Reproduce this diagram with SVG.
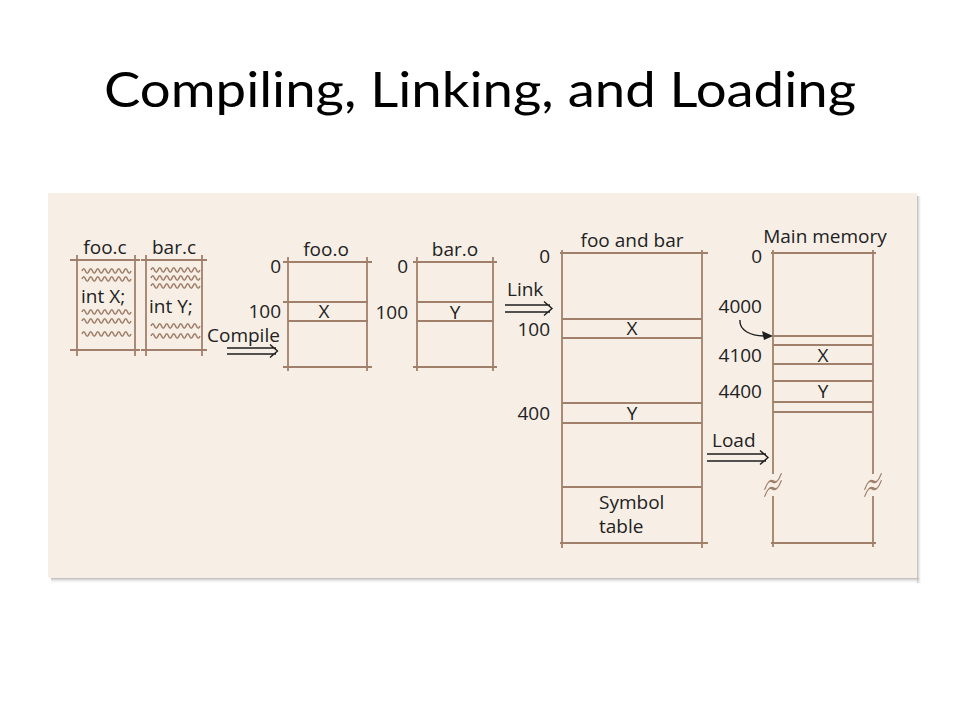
<svg xmlns="http://www.w3.org/2000/svg" width="960" height="720" viewBox="0 0 960 720">
<style>
  .t { font-family: "Open Sans", "Noto Sans", sans-serif; font-size: 19px; fill: #222222; }
  .m { text-anchor: middle; }
  .e { text-anchor: end; }
  .ln { stroke: #a0806b; stroke-width: 1.8; fill: none; }
  .wv { stroke: #a0806b; stroke-width: 1.6; fill: none; }
  .ar { stroke: #1e1e1e; stroke-width: 1.4; fill: none; }
  .br { stroke: #a0806b; stroke-width: 1.8; fill: none; stroke-linecap: round; }
</style>
<defs>
  <path id="wave" d="M0,0 q1.75,-4.4 3.5,0 t3.5,0 t3.5,0 t3.5,0 t3.5,0 t3.5,0 t3.5,0 t3.5,0 t3.5,0 t3.5,0 t3.5,0 t3.5,0 t3.5,0 t3.5,0"/>
  <path id="brk" d="M-8,-3.5 c2.5,-4.5 5,-4.5 8,0 s5.5,4.5 8,0 M-8,3.5 c2.5,-4.5 5,-4.5 8,0 s5.5,4.5 8,0"/>
  <linearGradient id="shR" x1="0" y1="0" x2="1" y2="0">
    <stop offset="0" stop-color="#b8b8b8"/>
    <stop offset="1" stop-color="#ffffff" stop-opacity="0"/>
  </linearGradient>
  <linearGradient id="shB" x1="0" y1="0" x2="0" y2="1">
    <stop offset="0" stop-color="#b8b8b8"/>
    <stop offset="1" stop-color="#ffffff" stop-opacity="0"/>
  </linearGradient>
</defs>
<rect width="960" height="720" fill="#ffffff"/>
<text x="480" y="107" font-family="Lato, 'Open Sans', sans-serif" font-size="48" fill="#000" text-anchor="middle" textLength="752" lengthAdjust="spacingAndGlyphs">Compiling, Linking, and Loading</text>

<g id="panel">
  <rect x="917" y="196" width="5" height="387" fill="url(#shR)"/>
  <rect x="51" y="578" width="868" height="6" fill="url(#shB)"/>
  <rect x="48" y="193" width="869" height="385" fill="#f7efe6"/>
</g>

<g id="foo-c">
  <text class="t m" x="105" y="254">foo.c</text>
  <path class="ln" d="M70,260 H140 M70,350 H140 M77,255 V356 M135,255 V356"/>
  <use href="#wave" class="wv" x="82" y="271"/>
  <use href="#wave" class="wv" x="82" y="279"/>
  <text class="t" x="81" y="303">int X;</text>
  <use href="#wave" class="wv" x="82" y="312"/>
  <use href="#wave" class="wv" x="82" y="321"/>
  <use href="#wave" class="wv" x="82" y="334"/>
</g>

<g id="bar-c">
  <text class="t m" x="174" y="254">bar.c</text>
  <path class="ln" d="M141,260 H207 M141,350 H207 M146,255 V356 M202,255 V356"/>
  <use href="#wave" class="wv" x="151" y="270"/>
  <use href="#wave" class="wv" x="151" y="278"/>
  <use href="#wave" class="wv" x="151" y="286"/>
  <text class="t" x="149" y="313">int Y;</text>
  <use href="#wave" class="wv" x="151" y="326"/>
  <use href="#wave" class="wv" x="151" y="336"/>
</g>

<g id="foo-o">
  <text class="t m" x="326" y="256">foo.o</text>
  <text class="t e" x="281" y="273">0</text>
  <text class="t e" x="281" y="318">100</text>
  <path class="ln" d="M283,262 H372 M283,302 H368 M288,321 H368 M283,367 H372 M288,257 V371 M367,257 V371"/>
  <text class="t m" x="324" y="318">X</text>
</g>

<g id="bar-o">
  <text class="t m" x="455" y="256">bar.o</text>
  <text class="t e" x="408" y="273">0</text>
  <text class="t e" x="408" y="319">100</text>
  <path class="ln" d="M413,262 H497 M417,302 H493 M417,321 H493 M413,367 H497 M417,257 V371 M493,257 V371"/>
  <text class="t m" x="455" y="319">Y</text>
</g>

<g id="foo-and-bar">
  <text class="t m" x="632" y="247">foo and bar</text>
  <text class="t e" x="550" y="263">0</text>
  <text class="t e" x="550" y="336">100</text>
  <text class="t e" x="550" y="420">400</text>
  <path class="ln" d="M560,253 H708 M562,319 H702 M562,338 H702 M562,403 H702 M562,423 H702 M562,487 H702 M560,543 H708 M562,250 V548 M702,250 V548"/>
  <text class="t m" x="632" y="335">X</text>
  <text class="t m" x="632" y="420">Y</text>
  <text class="t" x="599" y="509">Symbol</text>
  <text class="t" x="599" y="533">table</text>
</g>

<g id="main-memory">
  <text class="t m" x="825" y="243">Main memory</text>
  <text class="t e" x="762" y="263">0</text>
  <text class="t e" x="762" y="313">4000</text>
  <text class="t e" x="762" y="362">4100</text>
  <text class="t e" x="762" y="398">4400</text>
  <path class="ln" d="M771,253 H876 M774,336 H873 M773,345 H873 M773,364 H873 M773,381 H873 M773,402 H873 M773,412 H873 M771,543 H876 M773,250 V474 M773,496 V547 M873,250 V474 M873,496 V547"/>
  <use href="#brk" class="br" transform="translate(773,485) skewY(-42)"/>
  <use href="#brk" class="br" transform="translate(873,485) skewY(-42)"/>
  <text class="t m" x="823" y="362">X</text>
  <text class="t m" x="823" y="398">Y</text>
</g>

<g id="connectors">
  <text class="t" x="207" y="342">Compile</text>
  <path class="ar" d="M227,348 H276 M227,354 H276 M270,344.5 L277.5,351 L270,357.5"/>
  <text class="t" x="507" y="296">Link</text>
  <path class="ar" d="M505,305 H550 M505,312 H550 M544,301.5 L552,308.5 L544,315.5"/>
  <text class="t" x="712" y="447">Load</text>
  <path class="ar" d="M707,454 H766 M707,461 H766 M760,450.5 L768,457.5 L760,464.5"/>
  <path class="ar" d="M740,320 C739,330 750,336 765,336"/>
  <polygon points="773,336 762,331 764,340" fill="#1e1e1e"/>
</g>
</svg>
